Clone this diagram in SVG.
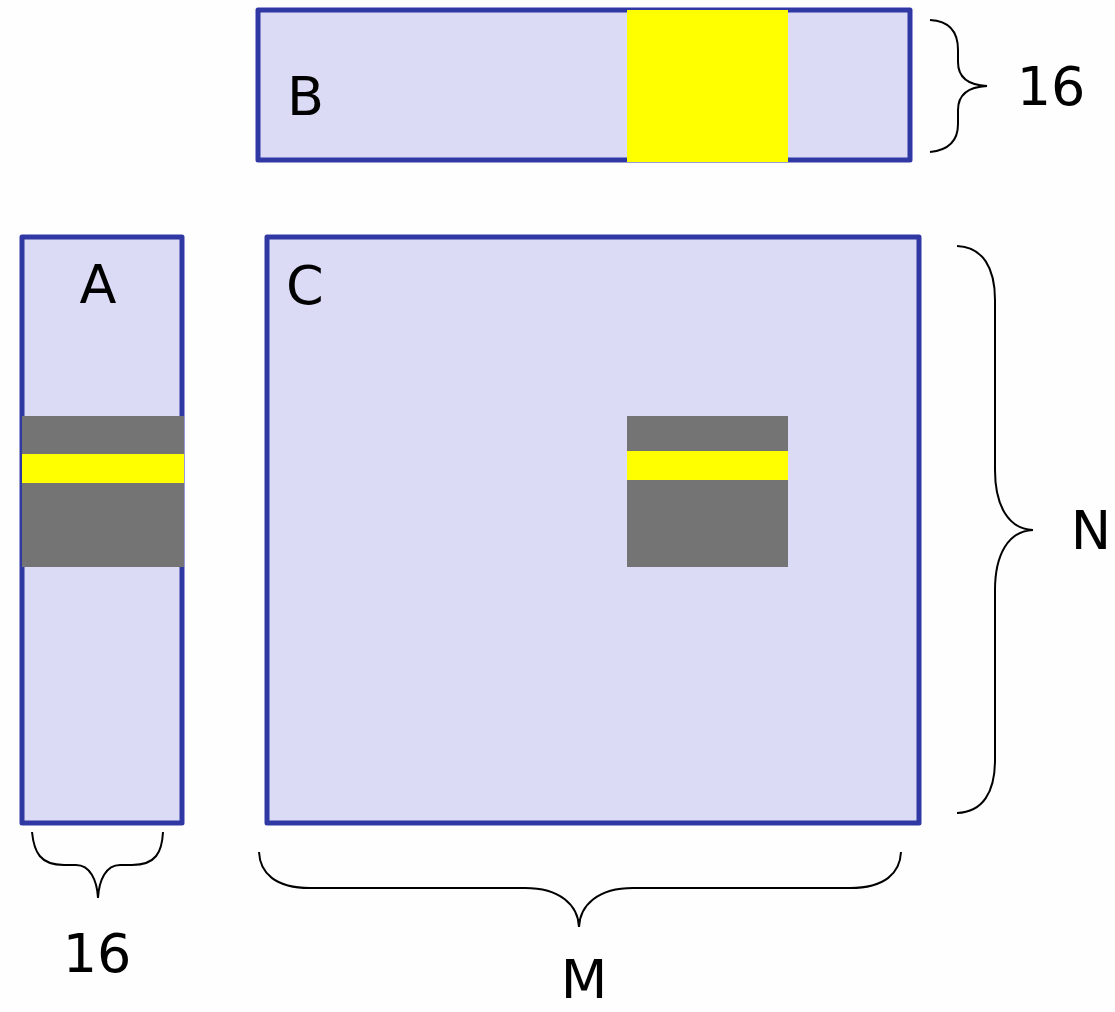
<svg xmlns="http://www.w3.org/2000/svg" width="1115" height="1012" viewBox="0 0 1115 1012">
<style>
.box{fill:#dbdbf5;stroke:#3039a3;stroke-width:5;stroke-linejoin:round}
.gray{fill:#747474}
.yel{fill:#ffff00}
.brace{fill:none;stroke:#000;stroke-width:2}
.lbl{font-family:"DejaVu Sans",Verdana,sans-serif;font-size:54px;fill:#000}
</style>
<rect width="1115" height="1012" fill="#fefefe"/>
<g id="B">
<rect class="box" x="258" y="10" width="652" height="150"/>
<rect class="yel" x="627" y="10" width="161" height="152"/>
<text class="lbl" x="287" y="115">B</text>
</g>
<g id="A">
<rect class="box" x="22" y="237" width="160" height="586"/>
<rect class="gray" x="22" y="416" width="162" height="151"/>
<rect class="yel" x="22" y="454" width="162" height="29"/>
<text class="lbl" x="98" y="303" text-anchor="middle">A</text>
</g>
<g id="C">
<rect class="box" x="267" y="237" width="652" height="586"/>
<rect class="gray" x="627" y="416" width="161" height="151"/>
<rect class="yel" x="627" y="451" width="161" height="29"/>
<text class="lbl" x="286" y="304">C</text>
</g>
<g id="connectors">
<path class="brace" d="M930,20 C950,21 958,33 958,50 L958,62 C958,76 966,85 987,86 C966,87 958,96 958,110 L958,124 C958,139 950,150 930,152"/>
<path class="brace" d="M957,246 C983,247 995,268 995,300 L995,470 C995,505 1008,529 1033,530 C1008,531 995,555 995,590 L995,760 C995,792 983,812 957,813"/>
<path class="brace" d="M32,832 C34,852 40,865 64,865 L76,865 C90,865 97,880 98,898 C99,880 106,865 120,865 L132,865 C156,865 162,852 163,832"/>
<path class="brace" d="M259,852 C260,873 275,888 310,888 L525,888 C560,888 578,905 579,927 C580,905 598,888 633,888 L850,888 C885,888 900,873 901,852"/>
</g>
<g id="labels">
<text class="lbl" x="1051" y="105" text-anchor="middle">16</text>
<text class="lbl" x="1091" y="549" text-anchor="middle">N</text>
<text class="lbl" x="97" y="972" text-anchor="middle">16</text>
<text class="lbl" x="584" y="998" text-anchor="middle">M</text>
</g>
</svg>
